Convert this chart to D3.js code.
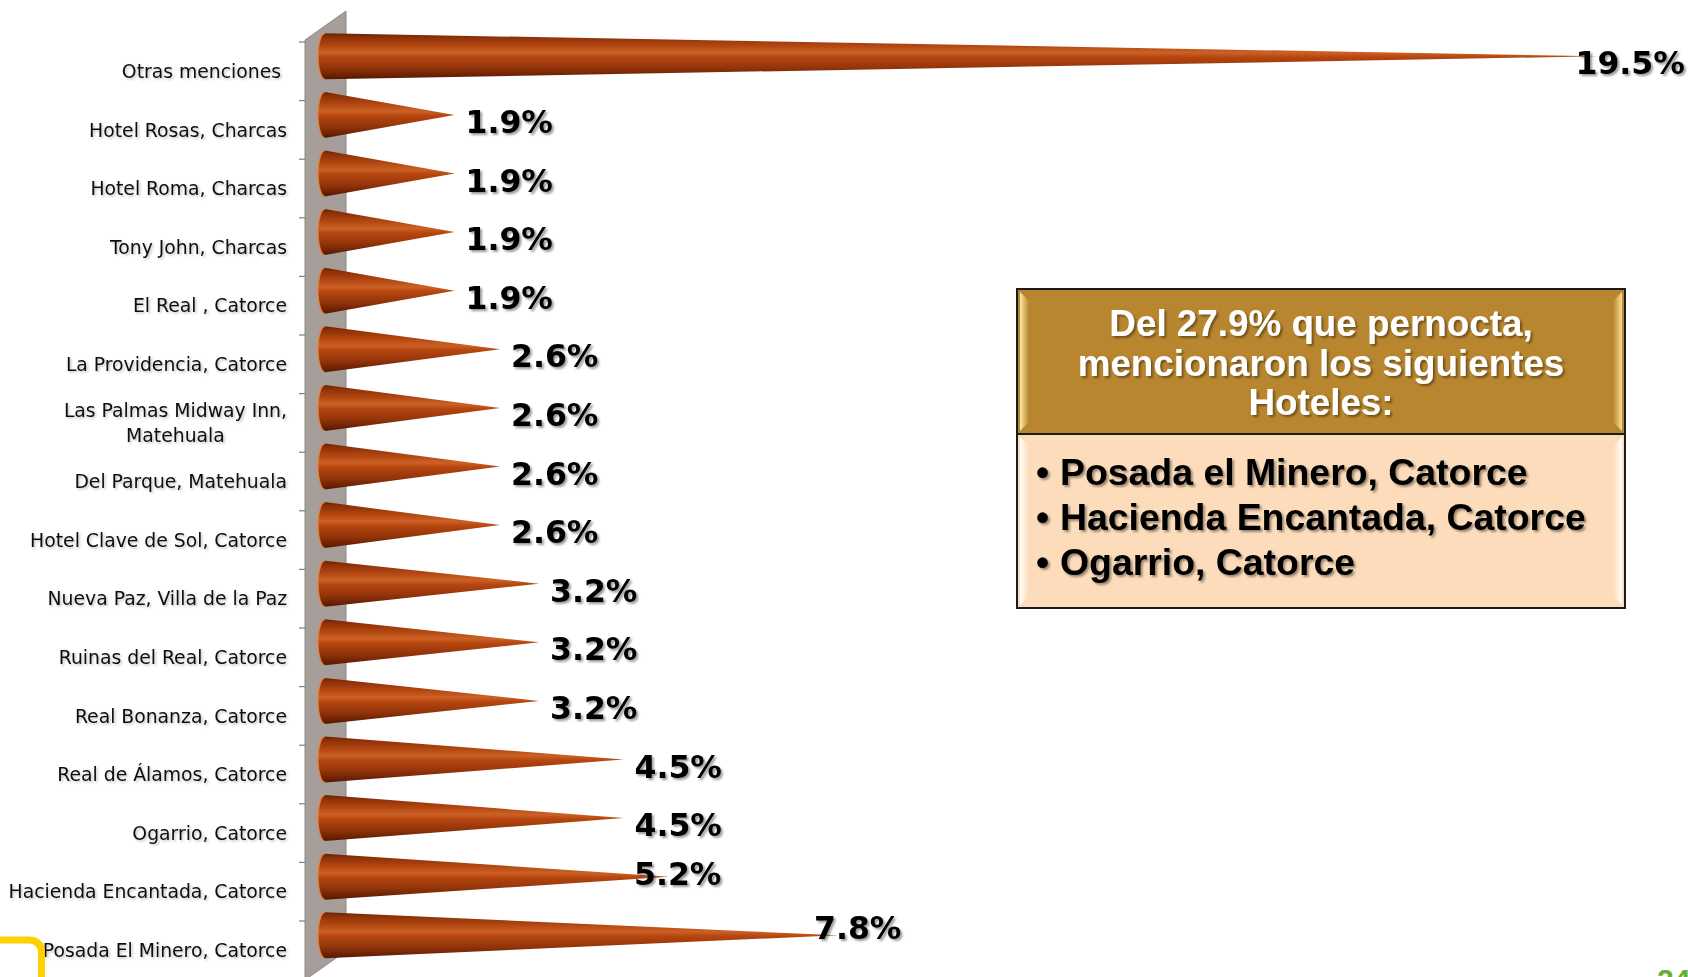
<!DOCTYPE html>
<html>
<head>
<meta charset="utf-8">
<script src="https://cdn.jsdelivr.net/npm/d3@7"></script>
<style>
  body { margin: 0; background: #fff; overflow: hidden; }
</style>
</head>
<body>
<div id="chart"></div>
<script>
// data, top to bottom as in the slide
const categories = ["Otras menciones ", "Hotel Rosas, Charcas", "Hotel Roma, Charcas", "Tony John, Charcas",
  "El Real , Catorce", "La Providencia, Catorce", "Las Palmas Midway Inn,\nMatehuala", "Del Parque, Matehuala",
  "Hotel Clave de Sol, Catorce", "Nueva Paz, Villa de la Paz", "Ruinas del Real, Catorce", "Real Bonanza, Catorce",
  "Real de Álamos, Catorce", "Ogarrio, Catorce", "Hacienda Encantada, Catorce", "Posada El Minero, Catorce"];
const values = [19.5, 1.9, 1.9, 1.9, 1.9, 2.6, 2.6, 2.6, 2.6, 3.2, 3.2, 3.2, 4.5, 4.5, 5.2, 7.8];
const boxTitle = ["Del 27.9% que pernocta,", "mencionaron los siguientes", "Hoteles:"];
const boxItems = ["Posada el Minero, Catorce", "Hacienda Encantada, Catorce", "Ogarrio, Catorce"];
const pageNumber = "24";

const width = 1688, height = 977;
const data = categories.map(function(c, i) { return {name: c, value: values[i]}; });

const svg = d3.select("#chart").append("svg")
  .attr("width", width)
  .attr("height", height);

const defs = svg.append("defs");

// cone shading
const coneGrad = defs.append("linearGradient")
  .attr("id", "coneGrad")
  .attr("x1", 0).attr("y1", 0).attr("x2", 0).attr("y2", 1);
[[0, "#6a2003"], [0.08, "#8c2f07"], [0.28, "#b44812"], [0.42, "#cc6126"], [0.52, "#b6460f"],
 [0.75, "#92340a"], [0.92, "#6a2104"], [1, "#501702"]].forEach(function(s) {
  coneGrad.append("stop").attr("offset", s[0]).attr("stop-color", s[1]);
});

const shadow = defs.append("filter").attr("id", "shadow")
  .attr("x", "-10%").attr("y", "-20%").attr("width", "130%").attr("height", "160%");
shadow.append("feDropShadow").attr("dx", 2).attr("dy", 2).attr("stdDeviation", 1.2)
  .attr("flood-color", "#000").attr("flood-opacity", 0.4);

const softShadow = defs.append("filter").attr("id", "softShadow")
  .attr("x", "-10%").attr("y", "-20%").attr("width", "130%").attr("height", "160%");
softShadow.append("feDropShadow").attr("dx", 1.5).attr("dy", 1.5).attr("stdDeviation", 1)
  .attr("flood-color", "#000").attr("flood-opacity", 0.25);

function bevelGrad(id, from, to) {
  const g = defs.append("linearGradient").attr("id", id)
    .attr("x1", 0).attr("y1", 0).attr("x2", 1).attr("y2", 0);
  g.append("stop").attr("offset", 0).attr("stop-color", from);
  g.append("stop").attr("offset", 1).attr("stop-color", to);
}
bevelGrad("goldL", "#fbe9a4", "#b8862f");
bevelGrad("goldR", "#b8862f", "#f6df94");
bevelGrad("peachL", "#ffffff", "#fcdcba");
bevelGrad("peachR", "#fcdcba", "#ffffff");

// scales
const y = d3.scaleBand()
  .domain(categories)
  .range([42, 42 + 58.6 * categories.length]);
const x = d3.scaleLinear()
  .domain([0, 20])
  .range([331, 1631]);

const coneH = 23, coneRx = 7, depth = 15;
const baseX = 325;
function coneY(d) { return y(d.name) + y.bandwidth() / 2 - depth; }

// back wall
svg.append("path")
  .attr("d", "M305,40 L346,11 L346,951 L305,980 Z")
  .attr("fill", "#a59e9a")
  .attr("stroke", "#8f8884")
  .attr("stroke-width", 1);

// tick marks at category edges
const tickYs = categories.map(function(c) { return y(c); }).concat([y.range()[1]]);
svg.append("g").selectAll("line")
  .data(tickYs).enter().append("line")
  .attr("x1", 299).attr("x2", 305)
  .attr("y1", function(d) { return d; })
  .attr("y2", function(d) { return d; })
  .attr("stroke", "#7f7f7f")
  .attr("stroke-width", 1.2);

// cones
const cones = svg.append("g").selectAll("g")
  .data(data).enter().append("g");

cones.append("path")
  .attr("d", function(d) {
    const cy = coneY(d);
    return "M" + baseX + "," + (cy - coneH) + " L" + x(d.value) + "," + cy +
      " L" + baseX + "," + (cy + coneH) +
      " A" + coneRx + "," + coneH + " 0 0 1 " + baseX + "," + (cy - coneH) + " Z";
  })
  .attr("fill", "url(#coneGrad)");

cones.append("path")
  .attr("d", function(d) {
    const cy = coneY(d);
    return "M" + baseX + "," + (cy + coneH) +
      " A" + coneRx + "," + coneH + " 0 0 1 " + baseX + "," + (cy - coneH);
  })
  .attr("fill", "none")
  .attr("stroke", "#e5803c")
  .attr("stroke-width", 1.3);

// category labels
const labelRight = 287;
const catLabels = svg.append("g").selectAll("g")
  .data(data).enter().append("g")
  .attr("transform", function(d) { return "translate(" + labelRight + "," + (y(d.name) + y.bandwidth() / 2) + ")"; });

catLabels.each(function(d) {
  const lines = d.name.split("\n");
  const t = d3.select(this).append("text")
    .attr("text-anchor", "end")
    .attr("font-family", "'DejaVu Sans', sans-serif")
    .style("white-space", "pre")
    .attr("font-size", "18.8px")
    .attr("fill", "#111")
    .attr("filter", "url(#softShadow)");
  lines.forEach(function(ln, i) {
    t.append("tspan")
      .attr("x", 0)
      .attr("y", (i - (lines.length - 1) / 2) * 25)
      .attr("dy", "0.36em")
      .text(ln);
  });
  if (lines.length > 1) {
    const w = d3.max(t.selectAll("tspan").nodes(), function(n) { return n.getComputedTextLength(); });
    t.attr("text-anchor", "middle").selectAll("tspan").attr("x", -w / 2);
  }
});

// value labels (a few were moved by hand on the slide)
const labelNudge = {
  "Otras menciones ": [-34, 0],
  "Hacienda Encantada, Catorce": [-46, -10],
  "Posada El Minero, Catorce": [-35, -14]
};
svg.append("g").selectAll("text")
  .data(data).enter().append("text")
  .attr("x", function(d) { return x(d.value) + 11 + (labelNudge[d.name] ? labelNudge[d.name][0] : 0); })
  .attr("y", function(d) { return coneY(d) + 18 + (labelNudge[d.name] ? labelNudge[d.name][1] : 0); })
  .attr("font-family", "'DejaVu Sans', sans-serif")
  .attr("font-weight", "bold")
  .attr("font-size", "31.5px")
  .attr("fill", "#000")
  .attr("filter", "url(#shadow)")
  .text(function(d) { return d3.format(".1f")(d.value) + "%"; });

// text box
const box = {x: 1017, y: 289, w: 608, h: 319, head: 145};
const boxG = svg.append("g");
boxG.append("rect")
  .attr("x", box.x).attr("y", box.y).attr("width", box.w).attr("height", box.head)
  .attr("fill", "#b8862f");
boxG.append("rect")
  .attr("x", box.x).attr("y", box.y + box.head).attr("width", box.w).attr("height", box.h - box.head)
  .attr("fill", "#fcdcba");

function bevel(x0, y0, x1, y1, fillL, fillR) {
  const b = 9, ins = 3;
  boxG.append("path")
    .attr("d", "M" + (x0 + ins) + "," + (y0 + ins) + " L" + (x0 + ins + b) + "," + (y0 + ins + b) +
      " L" + (x0 + ins + b) + "," + (y1 - ins - b) + " L" + (x0 + ins) + "," + (y1 - ins) + " Z")
    .attr("fill", fillL);
  boxG.append("path")
    .attr("d", "M" + (x1 - ins) + "," + (y0 + ins) + " L" + (x1 - ins - b) + "," + (y0 + ins + b) +
      " L" + (x1 - ins - b) + "," + (y1 - ins - b) + " L" + (x1 - ins) + "," + (y1 - ins) + " Z")
    .attr("fill", fillR);
}
bevel(box.x, box.y, box.x + box.w, box.y + box.head, "url(#goldL)", "url(#goldR)");
bevel(box.x, box.y + box.head, box.x + box.w, box.y + box.h, "url(#peachL)", "url(#peachR)");

boxG.append("rect")
  .attr("x", box.x).attr("y", box.y).attr("width", box.w).attr("height", box.h)
  .attr("fill", "none").attr("stroke", "#1a1a1a").attr("stroke-width", 2);
boxG.append("line")
  .attr("x1", box.x).attr("x2", box.x + box.w)
  .attr("y1", box.y + box.head).attr("y2", box.y + box.head)
  .attr("stroke", "#1a1a1a").attr("stroke-width", 2);

boxG.append("g").selectAll("text")
  .data(boxTitle).enter().append("text")
  .attr("x", box.x + box.w / 2)
  .attr("y", function(d, i) { return 336 + i * 39.5; })
  .attr("text-anchor", "middle")
  .attr("font-family", "'Liberation Sans', Arial, sans-serif")
  .attr("font-weight", "bold")
  .attr("font-size", "36.8px")
  .attr("fill", "#fff")
  .attr("filter", "url(#shadow)")
  .text(function(d) { return d; });

const items = boxG.append("g").selectAll("g")
  .data(boxItems).enter().append("g")
  .attr("transform", function(d, i) { return "translate(0," + (485 + i * 45) + ")"; });
items.append("text")
  .attr("x", 1036)
  .attr("font-family", "'Liberation Sans', Arial, sans-serif")
  .attr("font-weight", "bold")
  .attr("font-size", "37.4px")
  .attr("fill", "#000")
  .attr("filter", "url(#shadow)")
  .text("•");
items.append("text")
  .attr("x", 1060)
  .attr("font-family", "'Liberation Sans', Arial, sans-serif")
  .attr("font-weight", "bold")
  .attr("font-size", "37.4px")
  .attr("fill", "#000")
  .attr("filter", "url(#shadow)")
  .text(function(d) { return d; });

// slide decoration
svg.append("path")
  .attr("d", "M0,940 H28 Q41.5,940 41.5,953 V990")
  .attr("fill", "none")
  .attr("stroke", "#ffd000")
  .attr("stroke-width", 7);
svg.append("text")
  .attr("x", 1657).attr("y", 990)
  .attr("font-family", "'Liberation Sans', Arial, sans-serif")
  .attr("font-weight", "bold")
  .attr("font-size", "30px")
  .attr("fill", "#6aae30")
  .text(pageNumber);
</script>
</body>
</html>
